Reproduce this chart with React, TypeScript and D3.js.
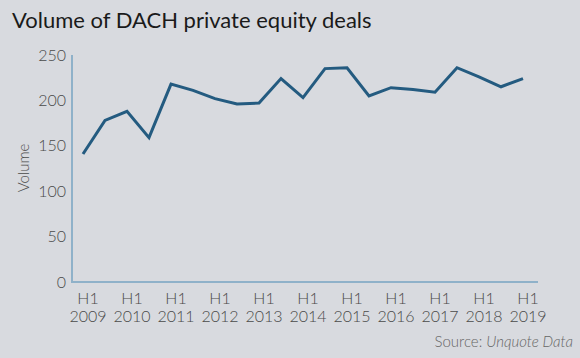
import * as d3 from 'd3';

// half-year periods, H1 2009 .. H1 2019
const periods = [
  'H1 2009', 'H2 2009', 'H1 2010', 'H2 2010', 'H1 2011', 'H2 2011', 'H1 2012',
  'H2 2012', 'H1 2013', 'H2 2013', 'H1 2014', 'H2 2014', 'H1 2015', 'H2 2015',
  'H1 2016', 'H2 2016', 'H1 2017', 'H2 2017', 'H1 2018', 'H2 2018', 'H1 2019'
];
const volumes = [141, 178, 188, 159, 218, 211, 202, 196, 197, 224, 203, 235, 236, 205, 214, 212, 209, 236, 226, 215, 224];
const yTicks = [0, 50, 100, 150, 200, 250];

const W = 580, H = 358;
const font = 'Lato, "Noto Sans", sans-serif';

export default function App() {
  // set the ranges
  const x = d3.scaleLinear().domain([0, periods.length - 1]).range([83, 523]);
  const y = d3.scaleLinear().domain([0, 250]).range([282, 55]);

  const line = d3.line<number>()
    .x((d, i) => x(i))
    .y(d => y(d));

  const labelIdx = periods.map((p, i) => i).filter(i => periods[i].startsWith('H1'));

  return (
    <svg width={W} height={H} style={{ position: 'absolute', left: 0, top: 0, fontFamily: font }}>
      <rect width={W} height={H} fill="#d8dadf" />
      <text x={12} y={28} fontSize={22} fill="#1a1a1a">Volume of DACH private equity deals</text>

      {/* y axis */}
      {yTicks.map(t => (
        <text key={t} x={66} y={y(t)} dy="0.35em" textAnchor="end" fontSize={16} fontWeight={300} fill="#4a4a4a">{t}</text>
      ))}
      <text transform={`translate(24,${168}) rotate(-90)`} textAnchor="middle" dy="0.35em" fontSize={15} fontWeight={300} fill="#4a4a4a">Volume</text>

      <line x1={72} x2={72} y1={y(250)} y2={y(0)} stroke="#8fb1c9" strokeWidth={2} />
      <line x1={71} x2={538} y1={y(0)} y2={y(0)} stroke="#8fb1c9" strokeWidth={2} />

      {/* x labels */}
      {labelIdx.map(i => {
        const [h, yr] = periods[i].split(' ');
        return (
          <text key={i} x={x(i) + 5} textAnchor="middle" fontSize={16} fontWeight={300} fill="#4a4a4a">
            <tspan x={x(i) + 5} y={304}>{h}</tspan>
            <tspan x={x(i) + 5} y={322}>{yr}</tspan>
          </text>
        );
      })}

      <path d={line(volumes) || ''} fill="none" stroke="#245b80" strokeWidth={3} strokeLinejoin="miter" />

      <text x={573} y={347} textAnchor="end" fontSize={15} fontWeight={300} fill="#666">
        Source: <tspan fontStyle="italic">Unquote Data</tspan>
      </text>
    </svg>
  );
}
